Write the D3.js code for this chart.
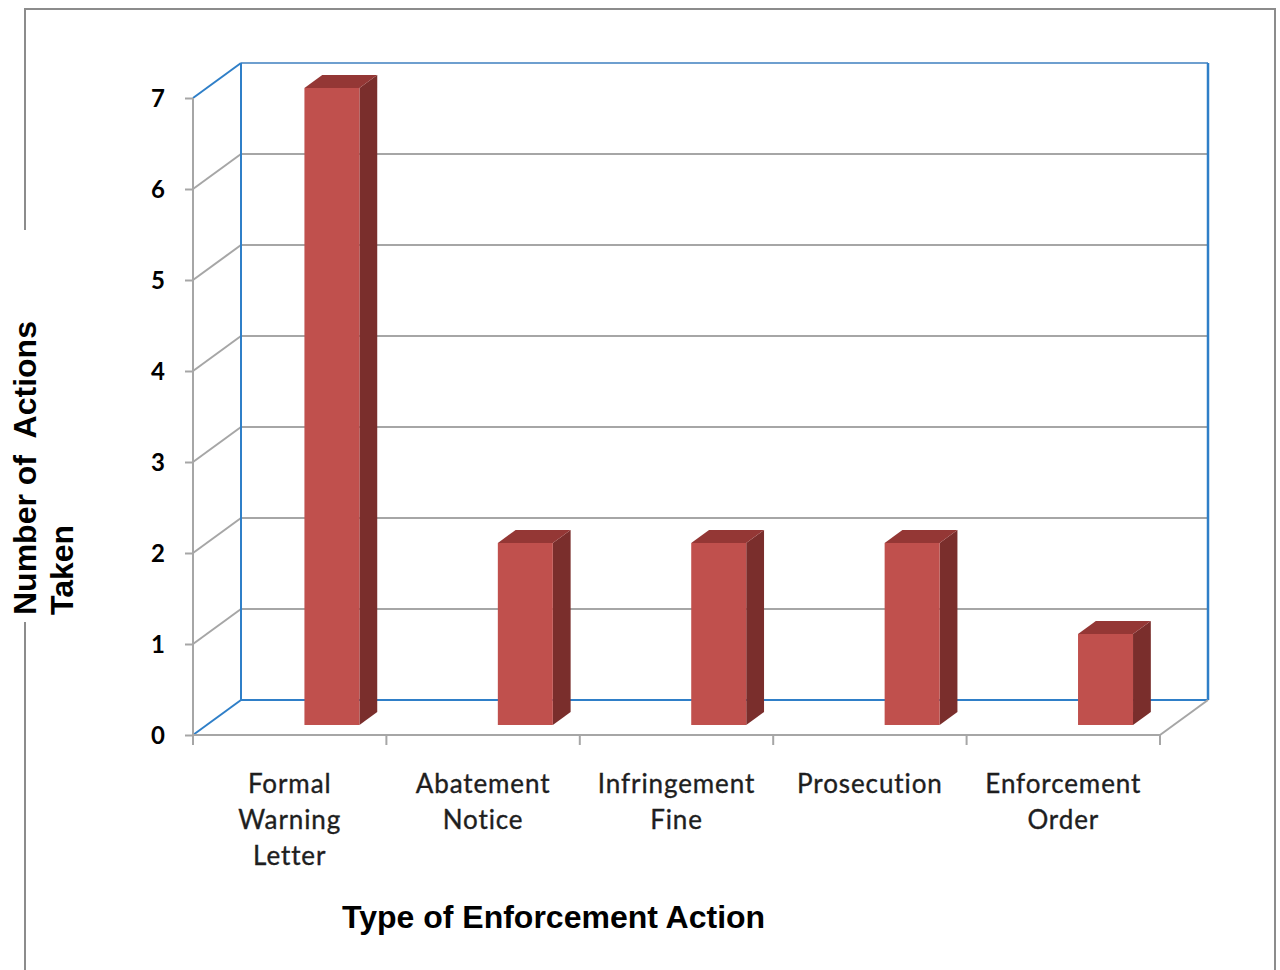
<!DOCTYPE html>
<html><head><meta charset="utf-8">
<script src="https://cdn.jsdelivr.net/npm/d3@7"></script>
<style>html,body{margin:0;padding:0;background:#fff;}svg{display:block;}</style>
</head><body>
<script>
const categories = [["Formal","Warning","Letter"],["Abatement","Notice"],["Infringement","Fine"],["Prosecution"],["Enforcement","Order"]];
const categoryKeys = ["Formal Warning Letter","Abatement Notice","Infringement Fine","Prosecution","Enforcement Order"];
const values = [7, 2, 2, 2, 1];
const yTicks = [0,1,2,3,4,5,6,7];
const yTitleLines = ["Number of  Actions", "Taken"];
const xTitle = "Type of Enforcement Action";

const W = 1280, H = 970;
const svg = d3.select("body").append("svg").attr("width", W).attr("height", H);

// outer border
svg.append("path").attr("d", `M25,970 V9 H1275 V970`).attr("fill","none").attr("stroke","#8c8c8c").attr("stroke-width",2);

const DX = 48, DY = -35; // depth offset
const y = d3.scaleLinear().domain([0,7]).range([735, 98]);
const x = d3.scaleBand().domain(categoryKeys).range([193, 1160]).padding(0);
const x0 = 193, x1 = 1160;
const grey = "#a6a6a6", blue = "#2f7fc8";

const g = svg.append("g");
yTicks.forEach(t => {
  const col = (t === 0) ? blue : (t === 7 ? "#6e9fcf" : grey);
  g.append("line").attr("x1", x0+DX).attr("x2", x1+DX).attr("y1", y(t)+DY).attr("y2", y(t)+DY)
    .attr("stroke", col).attr("stroke-width", 2);
  g.append("line").attr("x1", x0).attr("y1", y(t)).attr("x2", x0+DX).attr("y2", y(t)+DY)
    .attr("stroke", (t===0||t===7) ? blue : grey).attr("stroke-width", 2);
});
g.append("line").attr("x1", x0+DX).attr("x2", x0+DX).attr("y1", y(7)+DY).attr("y2", y(0)+DY).attr("stroke", blue).attr("stroke-width", 2);
g.append("line").attr("x1", x1+DX).attr("x2", x1+DX).attr("y1", y(7)+DY).attr("y2", y(0)+DY).attr("stroke", blue).attr("stroke-width", 2.5);
g.append("line").attr("x1", x1).attr("y1", y(0)).attr("x2", x1+DX).attr("y2", y(0)+DY).attr("stroke", grey).attr("stroke-width", 2);

// bars
const d0 = 0.286, d1 = 0.657, bw = 55;
const bars = g.append("g");
values.forEach((v, i) => {
  const c = categoryKeys[i];
  const fx = x(c) + x.bandwidth()/2 + DX*d0 + 1;
  const fyT = y(v) + DY*d0, fyB = y(0) + DY*d0;
  const ddx = DX*(d1-d0), ddy = DY*(d1-d0);
  bars.append("path").attr("d", `M${fx+bw},${fyT} L${fx+bw+ddx},${fyT+ddy} L${fx+bw+ddx},${fyB+ddy} L${fx+bw},${fyB} Z`).attr("fill", "#7a2e2c");
  bars.append("path").attr("d", `M${fx},${fyT} L${fx+ddx},${fyT+ddy} L${fx+bw+ddx},${fyT+ddy} L${fx+bw},${fyT} Z`).attr("fill", "#943735");
  bars.append("rect").attr("x", fx).attr("y", fyT).attr("width", bw).attr("height", fyB-fyT).attr("fill", "#c0504d");
});

g.append("line").attr("x1", x0).attr("x2", x1).attr("y1", y(0)).attr("y2", y(0)).attr("stroke", grey).attr("stroke-width", 2);
const bounds = categoryKeys.map(c => x(c)).concat([x1]);
bounds.forEach(b => g.append("line").attr("x1", b).attr("x2", b).attr("y1", y(0)).attr("y2", y(0)+10).attr("stroke", grey).attr("stroke-width", 2));

// y axis
const yAxis = svg.append("g").attr("transform", `translate(${x0},0)`)
  .call(d3.axisLeft(y).tickValues(yTicks).tickSize(8).tickPadding(20).tickFormat(d3.format("d")));
yAxis.select(".domain").attr("stroke", grey).attr("stroke-width", 2).attr("d", `M0,${y(7)}V${y(0)}`);
yAxis.selectAll(".tick line").attr("stroke", grey).attr("stroke-width", 2);
yAxis.selectAll(".tick text").attr("font-family", "Lato, 'Open Sans', sans-serif").attr("font-weight", 700)
  .attr("font-size", 24).attr("fill", "#000").attr("dy", "0.35em");

// category labels
categories.forEach((lines, i) => {
  const cx = x(categoryKeys[i]) + x.bandwidth()/2;
  const t = svg.append("text").attr("text-anchor", "middle").attr("font-family", "Lato, 'Open Sans', sans-serif")
    .attr("font-size", 26).attr("fill", "#1e1e1e").attr("stroke", "#1e1e1e").attr("stroke-width", 0.35)
    .attr("letter-spacing", "0.9px");
  lines.forEach((l, j) => t.append("tspan").attr("x", cx).attr("y", 793 + j*36).text(l));
});

// y title
const yt = svg.append("g").attr("transform", "translate(36,615) rotate(-90)");
yt.append("rect").attr("x", -7).attr("y", -32).attr("width", 392).attr("height", 74).attr("fill", "#fff");
yTitleLines.forEach((l, j) => yt.append("text").attr("x", 0).attr("y", j*37).attr("xml:space","preserve")
  .style("white-space","pre").attr("font-family", "'Liberation Sans', Arial, sans-serif").attr("font-weight", 700)
  .attr("font-size", 32).attr("fill", "#000").text(l));

// x title
svg.append("text").attr("x", 342).attr("y", 928).attr("font-family", "'Liberation Sans', Arial, sans-serif")
  .attr("font-weight", 700).attr("font-size", 32).attr("fill", "#000").text(xTitle);
</script>
</body></html>
